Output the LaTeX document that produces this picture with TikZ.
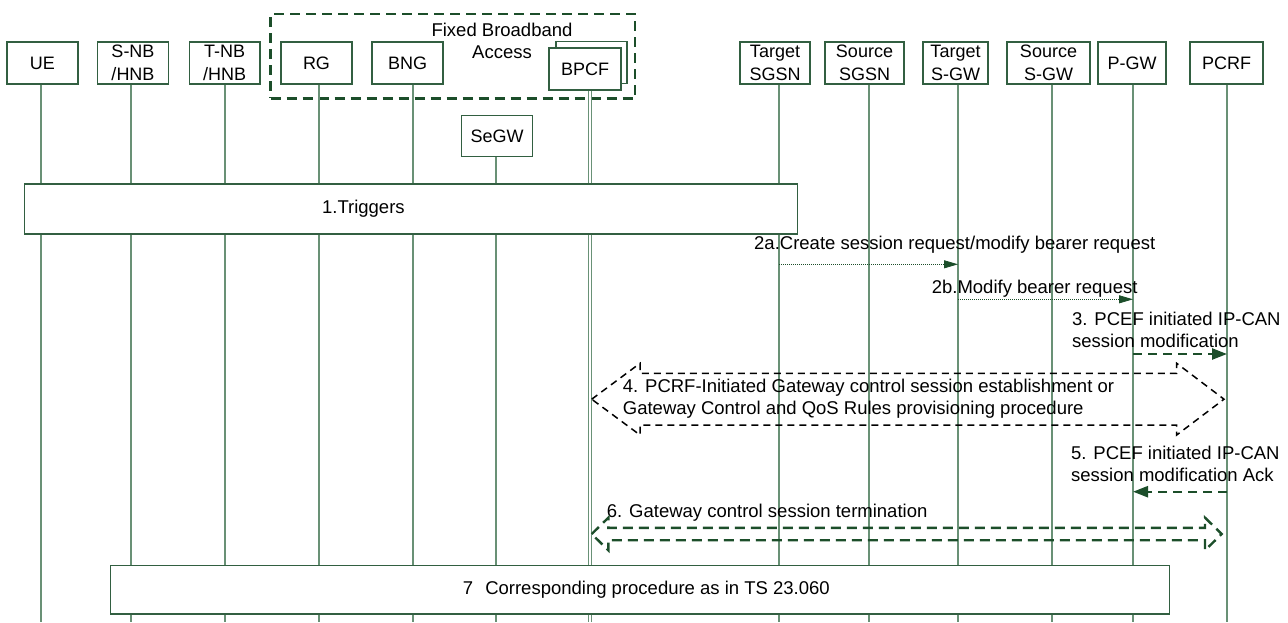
\documentclass[tikz,border=0pt]{standalone}
\usepackage{fontspec}
\setmainfont{Liberation Sans}
\usetikzlibrary{arrows.meta}
\definecolor{boxc}{RGB}{50,95,65}
\definecolor{lifec}{RGB}{105,145,118}
\definecolor{dkg}{RGB}{28,78,42}
\begin{document}
\begin{tikzpicture}[x=1pt,y=-1pt,
  every node/.style={font=\fontsize{18.5}{22}\selectfont},
  hdr/.style={draw=boxc, line width=1.2pt, fill=white, minimum height=42pt, inner sep=0pt, align=center, font=\fontsize{18}{22.5}\selectfont},
  life/.style={draw=lifec, line width=1.2pt},
  lbl/.style={inner sep=0pt, anchor=west, align=left},
  msgdot/.style={draw=dkg, line width=0.8pt, dash pattern=on 1pt off 1pt, -{Triangle[length=14pt,width=8pt]}},
  msgdash/.style={draw=dkg, line width=2.4pt, dash pattern=on 9pt off 6pt, -{Triangle[length=15pt,width=11pt]}},
  bar/.style={draw=boxc, line width=1.2pt, fill=white, inner sep=0pt},
  blockblack/.style={draw=black, line width=1.5pt, dash pattern=on 7pt off 5pt, line join=miter},
  blockgreen/.style={draw=dkg, line width=2.4pt, dash pattern=on 10pt off 6pt, line join=miter},
  fbabox/.style={draw=dkg, line width=2.6pt, dash pattern=on 10pt off 6pt, inner sep=0pt},
]
\useasboundingbox[fill=white] (0,0) rectangle (1288,622);

% lifeline x positions (bottom ends)
\coordinate (xue) at (41,622);
\coordinate (xsnb) at (131,622);
\coordinate (xtnb) at (225,622);
\coordinate (xrg) at (319,622);
\coordinate (xbng) at (413,622);
\coordinate (xsegw) at (496,622);
\coordinate (xbpcfa) at (588.4,622);
\coordinate (xbpcfb) at (591.2,622);
\coordinate (xtsgsn) at (779,622);
\coordinate (xssgsn) at (869,622);
\coordinate (xtsgw) at (958,622);
\coordinate (xssgw) at (1052,622);
\coordinate (xpgw) at (1133,622);
\coordinate (xpcrf) at (1227,622);

% fixed broadband access group
\node[fbabox, minimum width=364.3pt, minimum height=84.3pt] (fba) at (452.85,56.15) {};
\node[inner sep=0pt, align=center, font=\fontsize{18.5}{21.7}\selectfont] (fbatext) at (502,41) {Fixed Broadband\\Access};

% headers
\node[hdr, minimum width=71pt] (ue) at (42.5,63) {UE};
\node[hdr, minimum width=70.6pt] (snb) at (133,63) {S-NB\\/HNB};
\node[hdr, minimum width=70.7pt] (tnb) at (224.7,63) {T-NB\\/HNB};
\node[hdr, minimum width=71pt] (rg) at (316.5,63) {RG};
\node[hdr, minimum width=71pt] (bng) at (407.5,63) {BNG};
\node[hdr, minimum width=71pt, minimum height=41.6pt] (bpcfback) at (591.5,62.5) {};
\node[hdr, minimum width=72pt] (bpcf) at (585,69) {BPCF};
\node[hdr, minimum width=71pt, minimum height=41pt] (segw) at (497.2,136.2) {SeGW};
\node[hdr, minimum width=70pt] (tsgsn) at (775,63) {Target\\SGSN};
\node[hdr, minimum width=79pt] (ssgsn) at (864.5,63) {Source\\SGSN};
\node[hdr, minimum width=65pt] (tsgw) at (955.5,63) {Target\\S-GW};
\node[hdr, minimum width=83pt] (ssgw) at (1048.5,63) {Source\\S-GW};
\node[hdr, minimum width=68pt] (pgw) at (1132,63) {P-GW};
\node[hdr, minimum width=73pt] (pcrf) at (1226.5,63) {PCRF};

% lifelines
\draw[life] (ue.south -| xue) -- (xue);
\draw[life] (snb.south -| xsnb) -- (xsnb);
\draw[life] (tnb.south -| xtnb) -- (xtnb);
\draw[life] (rg.south -| xrg) -- (xrg);
\draw[life] (bng.south -| xbng) -- (xbng);
\draw[life] (segw.south -| xsegw) -- (xsegw);
\draw[life] (bpcf.south -| xbpcfa) -- (xbpcfa);
\draw[life] (bpcf.south -| xbpcfb) -- (xbpcfb);
\draw[life] (tsgsn.south -| xtsgsn) -- (xtsgsn);
\draw[life] (ssgsn.south -| xssgsn) -- (xssgsn);
\draw[life] (tsgw.south -| xtsgw) -- (xtsgw);
\draw[life] (ssgw.south -| xssgw) -- (xssgw);
\draw[life] (pgw.south -| xpgw) -- (xpgw);
\draw[life] (pcrf.south -| xpcrf) -- (xpcrf);

% 1. triggers
\node[bar, minimum width=773.5pt, minimum height=50pt] (trig) at (411,209) {};
\node[inner sep=0pt] (trigtext) at (363.4,209) {1.Triggers};

% 2a
\node[lbl] (t2a) at (754,245) {2a.Create session request/modify bearer request};
\draw[msgdot] (xtsgsn |- 0,264.3) -- (xtsgw |- 0,264.3);
% 2b
\node[lbl] (t2b) at (931.6,288.3) {2b.Modify bearer request};
\draw[msgdot] (xtsgw |- 0,299.3) -- (xpgw |- 0,299.3);
% 3
\node[lbl] (t3) at (1072,330) {3. PCEF initiated IP-CAN\\session modification};
\draw[msgdash] (xpgw |- 0,354) -- (xpcrf |- 0,354);

% 4
\draw[blockblack] (591.7,399.2) -- (640,363.3) -- (640,373.3) -- (1176.7,373.3) -- (1176.7,363.3)
  -- (1224,399.2) -- (1176.7,435) -- (1176.7,425) -- (640,425) -- (640,435) -- cycle;
\node[lbl] (t4) at (622.7,399.2) {4. PCRF-Initiated Gateway control session establishment or\\Gateway Control and QoS Rules provisioning procedure};

% 5
\node[lbl] (t5) at (1071,463.4) {5. PCEF initiated IP-CAN\\session modification Ack};
\draw[msgdash] (xpcrf |- 0,491.7) -- (xpgw |- 0,491.7);

% 6
\node[lbl] (t6) at (606.7,512.7) {6. Gateway control session termination};
\draw[blockgreen] (591.7,534) -- (608.3,517.7) -- (608.3,527.8) -- (1205,527.8) -- (1205,517.7)
  -- (1221.7,534) -- (1205,550.3) -- (1205,540.2) -- (608.3,540.2) -- (608.3,550.3) -- cycle;

% 7
\node[bar, minimum width=1058.6pt, minimum height=48.3pt] (proc) at (640,589.85) {};
\node[inner sep=0pt, anchor=east] (proctext) at (830,589.5) {7\hspace{12pt}Corresponding procedure as in TS 23.060};
\end{tikzpicture}
\end{document}
